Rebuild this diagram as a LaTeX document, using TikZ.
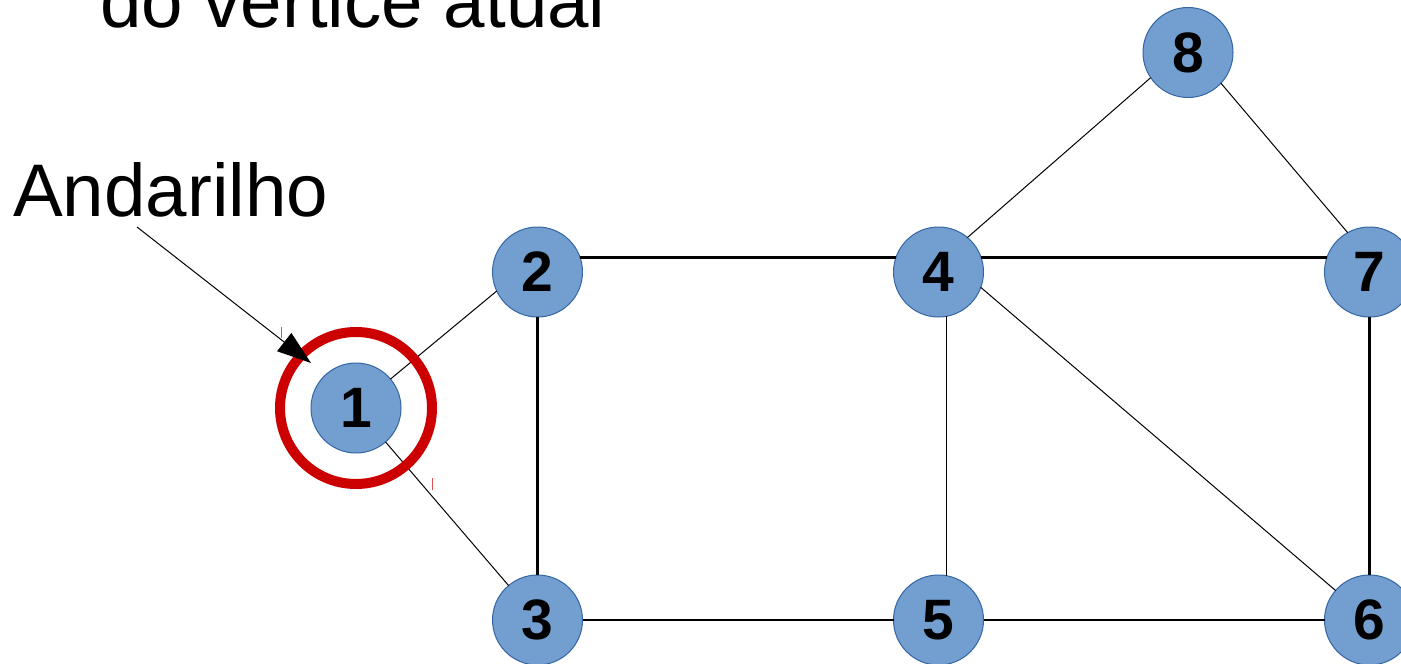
\documentclass[tikz,border=0pt]{standalone}
\usepackage{fontspec}
\setmainfont{Liberation Sans}
\usetikzlibrary{arrows.meta}
\definecolor{nodefill}{HTML}{729FCF}
\definecolor{nodeline}{HTML}{3465A4}
\definecolor{ringred}{HTML}{CC0000}
\definecolor{tickred}{HTML}{E05050}
\tikzset{
  vertex/.style={circle, fill=nodefill, draw=nodeline, line width=1bp, minimum size=90bp, inner sep=0pt, outer sep=0pt, font=\fontsize{57.2}{60}\selectfont\bfseries},
  thickedge/.style={line width=2.8bp, black},
  thinedge/.style={line width=1bp, black},
  bigtext/.style={font=\fontsize{74.8}{80}\selectfont, inner sep=0pt, anchor=base west},
}
\begin{document}
\begin{tikzpicture}[x=1bp, y=-1bp]
\useasboundingbox (0,0) rectangle (1401,664);
\node[bigtext] (title) at (100,28) {do vértice atual};
\node[bigtext] (walker) at (13,216) {Andarilho};
\node[vertex] (n1) at (356,408) {1};
\node[vertex] (n2) at (537.5,272) {2};
\node[vertex] (n3) at (537.5,620) {3};
\node[vertex] (n4) at (938.5,272) {4};
\node[vertex] (n5) at (938.5,620) {5};
\node[vertex] (n6) at (1369.5,620) {6};
\node[vertex] (n7) at (1369.5,272) {7};
\node[vertex] (n8) at (1188,52.5) {8};
% thick edges
\draw[thickedge] (n2.19) -- (n4.161);
\draw[thickedge] (n4.19) -- (n7.161);
\draw[thickedge] (n3) -- (n5);
\draw[thickedge] (n5) -- (n6);
\draw[thickedge] (n2) -- (n3);
\draw[thickedge] (n7) -- (n6);
% thin edges
\draw[thinedge] (n1.40) -- (n2.205);
\draw[thinedge] (n1.-49) -- (n3.130);
\draw[thinedge] (n4.50.5) -- (n8.214);
\draw[thinedge] (n8.-43) -- (n7.119);
\draw[thinedge] (n4.-80) -- (n5.80);
\draw[thinedge] (n4.-20) -- (n6.139);
% ring around current vertex
\draw[ringred, line width=10bp] (n1.center) circle[radius=76];
% arrow
\coordinate (astart) at (137,227);
\coordinate (atip) at (311,363);
\draw[thinedge, -{Triangle[length=34bp, width=23bp]}] (astart) -- (atip);
% small red ticks
\draw[tickred, line width=1bp] (281,327) -- (281,338);
\draw[tickred, line width=1bp] (432,478) -- (432,490);
\end{tikzpicture}
\end{document}
